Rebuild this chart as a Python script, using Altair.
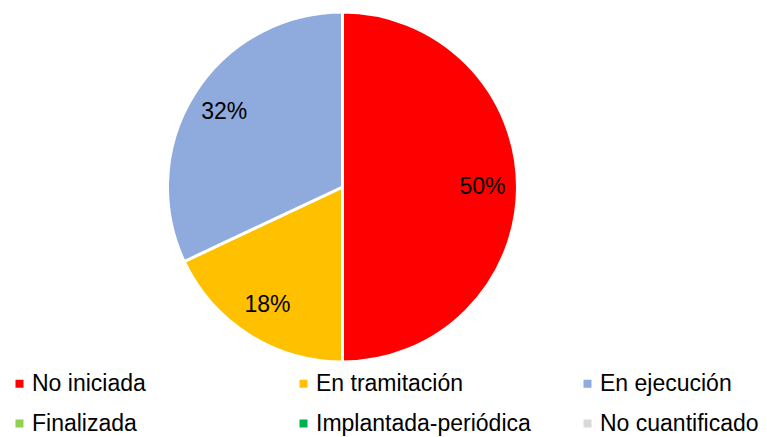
import altair as alt
import pandas as pd

categories = ["No iniciada", "En tramitación", "En ejecución", "Finalizada", "Implantada-periódica", "No cuantificado"]
values = [50, 18, 32, 0, 0, 0]
colors = ["#FF0000", "#FFC000", "#8FAADC", "#92D050", "#00B050", "#D9D9D9"]

# legend is filled column by column (2 rows x 3 columns)
legend_order = ["No iniciada", "Finalizada", "En tramitación", "Implantada-periódica", "En ejecución", "No cuantificado"]
legend_colors = [colors[categories.index(c)] for c in legend_order]

df = pd.DataFrame({"cat": categories, "val": values, "idx": list(range(len(categories)))})
df["label"] = df["val"].astype(str) + "%"

FONT = "Liberation Sans"
CX, CY = 334.5, 179

base = alt.Chart(df).encode(
    theta=alt.Theta("val:Q", stack=True),
    order=alt.Order("idx:Q"),
)

pie = base.mark_arc(radius=175, stroke="white", strokeWidth=3, x=CX, y=CY).encode(
    color=alt.Color(
        "cat:N",
        sort=legend_order,
        scale=alt.Scale(domain=legend_order, range=legend_colors),
        legend=alt.Legend(
            title=None,
            orient="none",
            legendX=0,
            legendY=364,
            columns=3,
            gridAlign="all",
            columnPadding=45,
            rowPadding=16,
            symbolType="square",
            symbolSize=64,
            symbolStrokeWidth=0,
            labelFont=FONT,
            labelFontSize=23,
            labelColor="black",
            labelLimit=400,
            labelOffset=1,
        ),
    )
)

labels = base.transform_filter("datum.val > 0").mark_text(
    radius=140, font=FONT, fontSize=23, color="black", x=CX, y=CY
).encode(text="label:N")

chart = (pie + labels).properties(
    width=751, height=429, autosize=alt.AutoSizeParams(type="none"), padding=0
).configure_view(stroke=None)

chart.save("out.html", embed_options={"renderer": "svg", "actions": False})
